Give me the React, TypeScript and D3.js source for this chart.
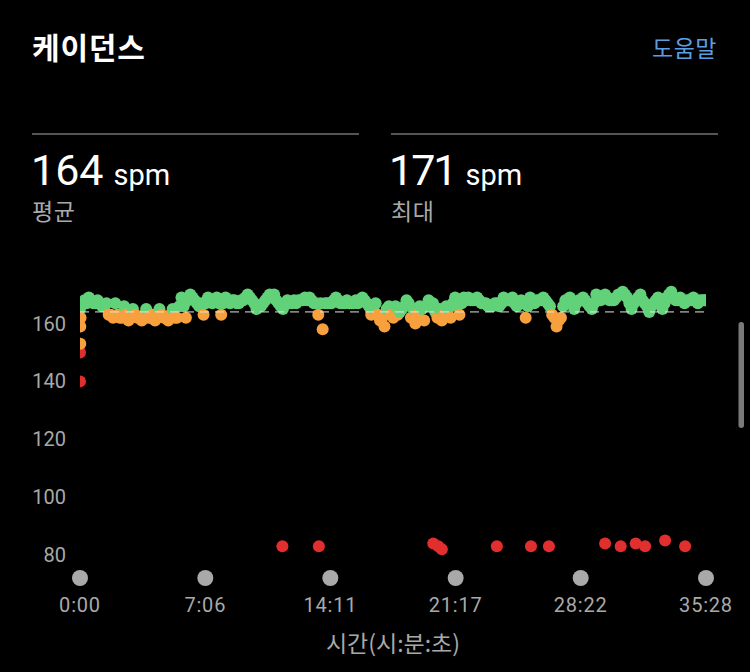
import React from "react";
import * as d3 from "d3";

const WIDTH = 750;
const HEIGHT = 672;

const sampleInterval = 15;
const cadenceValues = [
  165, 168, 169, 167, 168, 166, 167, 163, 167, 162,
  166, 161, 165, 162, 161, 165, 162, 161, 165, 162,
  161, 165, 162, 169, 162,
  170, 168, 166, 163, 169, 167, 169, 163, 169, 167, 168, 167,
  168, 170, 168, 165, 166, 168, 170, 170, 167, 165, 168, 167, 167, 168, 169, 169, 167,
  163, 158, 167, 167, 169, 167, 167, 167, 167, 167, 169, 167,
  163, 167, 161, 159, 166, 162, 163, 165, 168,
  162, 160, 166, 161, 168, 167, 162, 161, 166, 162, 169, 163, 169,
  169, 168, 169, 167, 167, 166, 167, 166, 169, 168, 169, 166, 168,
  162, 169, 167, 168, 169, 167, 163, 159, 162,
  168, 169, 165, 168, 169, 167, 165, 170, 168, 170, 168, 168, 170, 171, 169,
  165, 168, 170, 167, 164, 167, 169, 165, 169, 171,
  168, 169, 167, 168, 169, 167, 168,
];
// Cadence half-way between the 15 s samples (7.5 s offset)
const midValues = [
  167, 167, 168, 167, 167, 166,
  163, 162, 163, 162, 163, 162, 163, 162, 163, 162, 163, 162, 163, 162, 163, 162, 166, 166,
  168, 169, 167, 167, 167, 168, 168, 167, 167, 168, 168, 167, 168,
  169, 169, 167, 166, 167, 169, 169, 168, 166, 167, 167, 168, 168, 168, 168, 168, 167,
  167, 167, 167, 168, 168, 167, 168, 167, 168, 168, 168, 166,
  165, 163, 162, 165, 163, 166, 164, 166, 167,
  165, 163, 165, 166, 167, 164, 165, 163, 165, 167, 166, 167, 168,
  168, 168, 168, 167, 166, 166, 167, 167, 168, 168, 167, 167, 167,
  166, 168, 168, 168, 168, 166, 162, 161, 166,
  168, 167, 167, 168, 168, 166, 167, 169, 169, 169, 168, 169, 170, 170, 167,
  167, 169, 168, 166, 166, 168, 167, 167, 170, 169,
  168, 168, 168, 168, 168, 168,
];
const finalTimes = [2122, 2128];
const finalValues = [168, 168];

// Ramp-up points at the very start
const startTimes = [0, 0, 1, 1, 2];
const startValues = [140, 150, 153, 159, 162];

// Low-cadence points (walking / pauses)
const dropTimes = [688, 812, 1201, 1218, 1230, 1417, 1533, 1594, 1785, 1838, 1889, 1921, 1989, 2057];
const dropValues = [83, 83, 84, 83, 82, 83, 83, 83, 84, 83, 84, 83, 85, 83];

const yTicks = [80, 100, 120, 140, 160];
const xTickSeconds = [0, 426, 851, 1277, 1702, 2128];
const xTickLabels = ["0:00", "7:06", "14:11", "21:17", "28:22", "35:28"];

const averageCadence = 164;
const maxCadence = 171;

const GREEN = "#62d27a";
const ORANGE = "#f8a03e";
const RED = "#e12f2f";
const GRAY = "#a9a9a9";
const KR = "'Noto Sans CJK KR', 'Noto Sans', sans-serif";
const NUM = "Roboto, 'Noto Sans', sans-serif";

const zoneColor = (v: number) => (v < 153 ? RED : v < 164 ? ORANGE : GREEN);

export default function App() {
  const x = d3.scaleLinear().domain([0, 2128]).range([80, 706]);
  const y = d3.scaleLinear().domain([80, 160]).range([555, 323.5]);

  const points: { t: number; v: number }[] = [];
  startTimes.forEach((t, i) => points.push({ t, v: startValues[i] }));
  cadenceValues.forEach((v, i) => points.push({ t: i * sampleInterval, v }));
  midValues.forEach((v, i) => points.push({ t: i * sampleInterval + sampleInterval / 2, v }));
  finalTimes.forEach((t, i) => points.push({ t, v: finalValues[i] }));
  dropTimes.forEach((t, i) => points.push({ t, v: dropValues[i] }));
  points.sort((a, b) => a.t - b.t);

  return (
    <svg
      width={WIDTH}
      height={HEIGHT}
      style={{ position: "fixed", left: 0, top: 0, display: "block" }}
    >
      <defs>
        <clipPath id="plotClip">
          <rect x={x(0)} y={250} width={x(2128) - x(0)} height={320} />
        </clipPath>
      </defs>
      <rect x={0} y={0} width={WIDTH} height={HEIGHT} fill="#000" />

      <text x={32} y={59} fill="#fff" fontFamily={KR} fontSize={30} fontWeight={700} letterSpacing={0.8}>
        케이던스
      </text>
      <text x={717} y={57} fill="#5b9fe3" fontFamily={KR} fontSize={23} letterSpacing={0.5} textAnchor="end">
        도움말
      </text>

      <line x1={32} x2={359} y1={134} y2={134} stroke="#555" strokeWidth={2} />
      <line x1={391} x2={718} y1={134} y2={134} stroke="#555" strokeWidth={2} />

      <text x={31} y={185} fill="#fff" fontFamily={NUM}>
        <tspan fontSize={43}>{averageCadence}</tspan>
        <tspan fontSize={29} dx={10}>spm</tspan>
      </text>
      <text x={32} y={220} fill={GRAY} fontFamily={KR} fontSize={23} letterSpacing={0.5}>
        평균
      </text>
      <text x={389} y={185} fill="#fff" fontFamily={NUM}>
        <tspan fontSize={43} letterSpacing={-2}>{maxCadence}</tspan>
        <tspan fontSize={29} dx={10}>spm</tspan>
      </text>
      <text x={391} y={220} fill={GRAY} fontFamily={KR} fontSize={23} letterSpacing={0.5}>
        최대
      </text>

      {yTicks.map((v) => (
        <text
          key={v}
          x={66}
          y={y(v) + 7}
          fill={GRAY}
          fontFamily={NUM}
          fontSize={20}
          textAnchor="end"
        >
          {v}
        </text>
      ))}

      <g clipPath="url(#plotClip)">
        {points.map((p, i) => (
          <circle key={i} cx={x(p.t)} cy={y(p.v)} r={6} fill={zoneColor(p.v)} />
        ))}
      </g>

      <line
        x1={x(0)}
        x2={x(2128)}
        y1={y(averageCadence)}
        y2={y(averageCadence)}
        stroke="#e6e6e6"
        strokeWidth={1}
        strokeDasharray="9 6"
      />

      {xTickSeconds.map((s, i) => (
        <g key={s}>
          <circle cx={x(s)} cy={578} r={8} fill={GRAY} />
          <text
            x={x(s)}
            y={612}
            fill={GRAY}
            fontFamily={NUM}
            fontSize={20}
            letterSpacing={0.8}
            textAnchor="middle"
          >
            {xTickLabels[i]}
          </text>
        </g>
      ))}

      <text x={393} y={652} fill={GRAY} fontFamily={KR} fontSize={23} textAnchor="middle">
        시간(시:분:초)
      </text>

      <rect x={738.5} y={322} width={5.5} height={106} rx={2.75} fill="#7a7a7a" />
    </svg>
  );
}
